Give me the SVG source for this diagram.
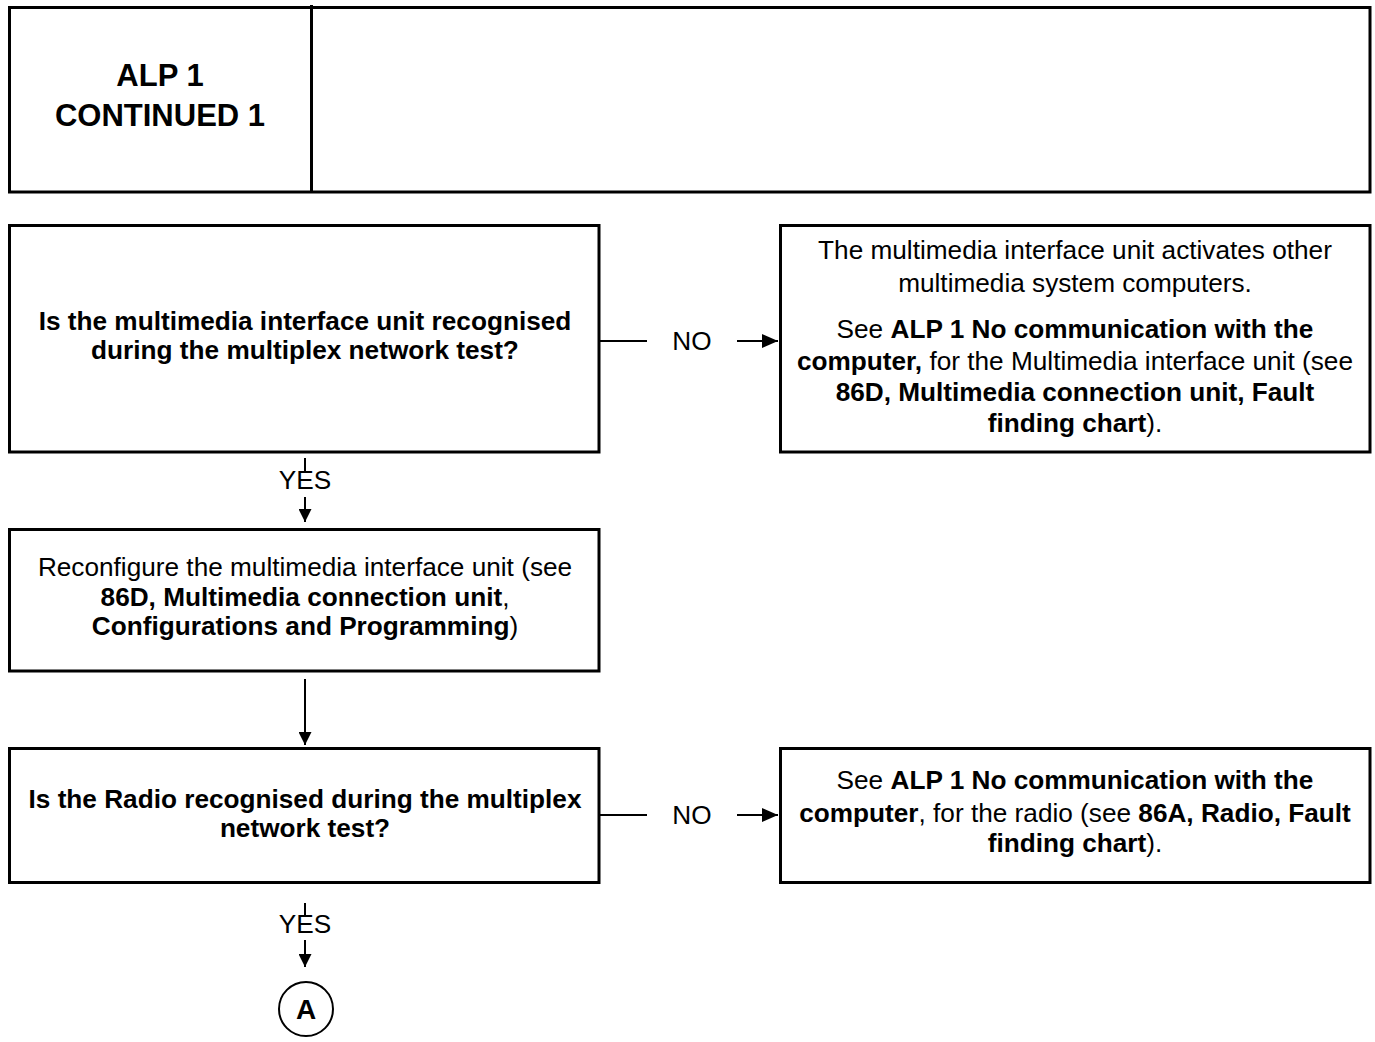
<svg xmlns="http://www.w3.org/2000/svg" width="1375" height="1042" viewBox="0 0 1375 1042">
  <style>
    .box { fill: #ffffff; stroke: #000000; stroke-width: 3; }
    .ln { fill: none; stroke: #000000; stroke-width: 2; }
    text { font-family: "Liberation Sans", Arial, sans-serif; font-size: 26.2px; fill: #000000; text-anchor: middle; }
    .b { font-weight: bold; }
    .hd { font-size: 31px; font-weight: bold; }
  </style>
  <defs>
    <!-- small head for the vertical flow arrows -->
    <marker id="arrow" viewBox="0 0 10 10" refX="10" refY="5" markerWidth="13" markerHeight="13" markerUnits="userSpaceOnUse" orient="auto" preserveAspectRatio="none">
      <path d="M0,0 L10,5 L0,10 Z" fill="#000000"/>
    </marker>
    <!-- wider head for the NO branches -->
    <marker id="arrowL" viewBox="0 0 10 10" refX="10" refY="5" markerWidth="16" markerHeight="14" markerUnits="userSpaceOnUse" orient="auto" preserveAspectRatio="none">
      <path d="M0,0 L10,5 L0,10 Z" fill="#000000"/>
    </marker>
  </defs>

  <!-- page header -->
  <g id="header">
    <rect class="box" x="9.5" y="7.5" width="1360.5" height="184.5"/>
    <line x1="311.5" y1="5" x2="311.5" y2="192" stroke="#000" stroke-width="3"/>
    <text class="hd" x="160" y="86">ALP 1</text>
    <text class="hd" x="160" y="126">CONTINUED 1</text>
  </g>

  <!-- decision: interface unit recognised -->
  <g id="q-interface">
    <rect class="box" x="9.5" y="225.5" width="589.5" height="226.5"/>
    <text class="b" x="305" y="330">Is the multimedia interface unit recognised</text>
    <text class="b" x="305" y="359">during the multiplex network test?</text>
  </g>

  <!-- interface unit not recognised -->
  <g id="r-interface">
    <rect class="box" x="780.5" y="225.5" width="589.5" height="226.5"/>
    <text x="1075" y="259">The multimedia interface unit activates other</text>
    <text x="1075" y="292">multimedia system computers.</text>
    <text x="1075" y="338">See <tspan class="b">ALP 1 No communication with the</tspan></text>
    <text x="1075" y="370"><tspan class="b">computer,</tspan> for the Multimedia interface unit (see</text>
    <text x="1075" y="401" class="b">86D, Multimedia connection unit, Fault</text>
    <text x="1075" y="432"><tspan class="b">finding chart</tspan>).</text>
  </g>

  <!-- reconfiguration step -->
  <g id="reconfigure">
    <rect class="box" x="9.5" y="529.5" width="589.5" height="141.5"/>
    <text x="305" y="576">Reconfigure the multimedia interface unit (see</text>
    <text x="305" y="606"><tspan class="b">86D, Multimedia connection unit</tspan>,</text>
    <text x="305" y="635"><tspan class="b">Configurations and Programming</tspan>)</text>
  </g>

  <!-- decision: radio recognised -->
  <g id="q-radio">
    <rect class="box" x="9.5" y="748.5" width="589.5" height="134"/>
    <text class="b" x="305" y="808">Is the Radio recognised during the multiplex</text>
    <text class="b" x="305" y="837">network test?</text>
  </g>

  <!-- radio not recognised -->
  <g id="r-radio">
    <rect class="box" x="780.5" y="748.5" width="589.5" height="134"/>
    <text x="1075" y="789">See <tspan class="b">ALP 1 No communication with the</tspan></text>
    <text x="1075" y="822"><tspan class="b">computer</tspan>, for the radio (see <tspan class="b">86A, Radio, Fault</tspan></text>
    <text x="1075" y="852"><tspan class="b">finding chart</tspan>).</text>
  </g>

  <!-- off-page connector -->
  <g id="connector-a">
    <circle cx="306" cy="1009" r="27" fill="#fff" stroke="#000" stroke-width="2"/>
    <text class="b" x="306" y="1019" style="font-size:28px">A</text>
  </g>

  <!-- connectors -->
  <g id="connectors">
    <line class="ln" x1="600" y1="341" x2="647" y2="341"/>
    <text x="692" y="350">NO</text>
    <line class="ln" x1="737" y1="341" x2="778" y2="341" marker-end="url(#arrowL)"/>

    <line class="ln" x1="305" y1="458" x2="305" y2="473"/>
    <text x="305" y="489">YES</text>
    <line class="ln" x1="305" y1="497" x2="305" y2="522" marker-end="url(#arrow)"/>

    <line class="ln" x1="305" y1="679" x2="305" y2="745" marker-end="url(#arrow)"/>

    <line class="ln" x1="600" y1="815" x2="647" y2="815"/>
    <text x="692" y="824">NO</text>
    <line class="ln" x1="737" y1="815" x2="778" y2="815" marker-end="url(#arrowL)"/>

    <line class="ln" x1="305" y1="903" x2="305" y2="917"/>
    <text x="305" y="933">YES</text>
    <line class="ln" x1="305" y1="940" x2="305" y2="967" marker-end="url(#arrow)"/>
  </g>
</svg>
